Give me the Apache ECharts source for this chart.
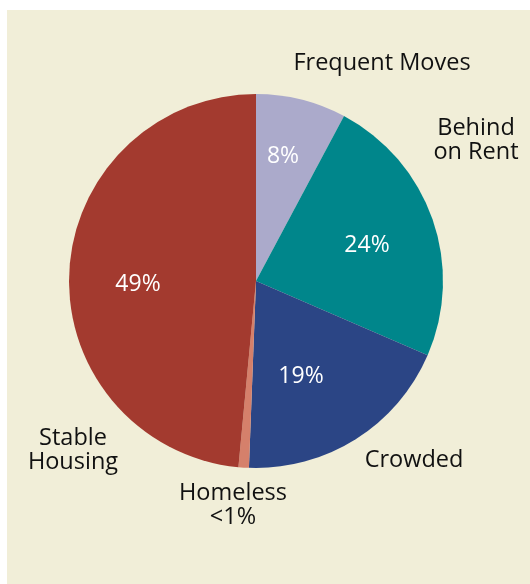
<!DOCTYPE html>
<html><head><meta charset="utf-8">
<script src="https://cdn.jsdelivr.net/npm/echarts@6/dist/echarts.min.js"></script>
<style>html,body{margin:0;padding:0;background:#fff}#c{width:530px;height:584px}</style>
</head><body><div id="c"></div>
<script>
const categories = ['Frequent Moves', 'Behind on Rent', 'Crowded', 'Homeless', 'Stable Housing'];
const values = [7.8, 23.7, 19.1, 0.9, 48.5];
const insideLabels = ['8%', '24%', '19%', '', '49%'];
const outsideLabels = ['Frequent Moves', 'Behind\non Rent', 'Crowded', 'Homeless\n<1%', 'Stable\nHousing'];
const colors = ['#abaacb', '#00868b', '#2b4585', '#d5806b', '#a33a2f'];

const chart = echarts.init(document.getElementById('c'), null, {renderer: 'canvas'});
const FONT = '"Open Sans", "Noto Sans", sans-serif';
const insidePos = [[283,156],[367,245],[301,376],null,[138,284]];
const outsidePos = [[382,63],[476,140],[414,460],[233,505],[73,450]];
const graphics = [{type:'rect', shape:{x:7,y:10,width:523,height:574}, style:{fill:'#f1eed8'}, z:-10}];
insideLabels.forEach((t,i)=>{ if(!t) return; graphics.push({type:'text', x:insidePos[i][0], y:insidePos[i][1], z:100,
  style:{text:t, fill:'#fff', font:'23px '+FONT, align:'center', verticalAlign:'middle'}});});
outsideLabels.forEach((t,i)=>{ graphics.push({type:'text', x:outsidePos[i][0], y:outsidePos[i][1], z:100,
  style:{text:t, fill:'#111', font:'23.5px '+FONT, align:'center', verticalAlign:'middle', lineHeight:24}});});
chart.setOption({
  backgroundColor:'#fff',
  animation:false,
  graphic: graphics,
  series:[{
    type:'pie', center:[256,281], radius:[0,187], startAngle:90, clockwise:true,
    label:{show:false}, labelLine:{show:false}, silent:true,
    itemStyle:{borderWidth:0},
    data: categories.map((c,i)=>({name:c, value:values[i], itemStyle:{color:colors[i]}}))
  }]
});
</script></body></html>
